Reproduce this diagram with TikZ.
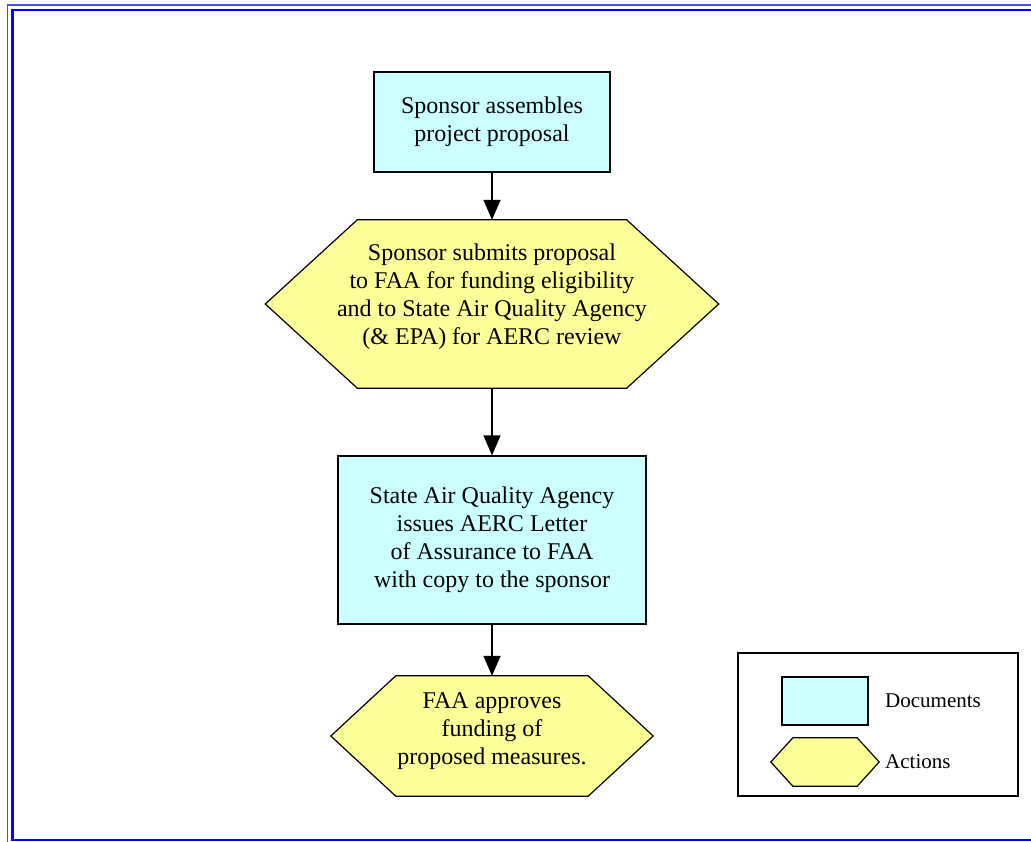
\documentclass[tikz,border=0pt]{standalone}
\usepackage{fontspec}
\setmainfont{Liberation Serif}
\usetikzlibrary{arrows.meta, positioning, backgrounds}
\definecolor{docfill}{HTML}{CCFFFF}
\definecolor{actfill}{HTML}{FFFF99}

\newcommand{\hexagon}[2]{%
	\filldraw[hexline] (#1.north west) -- (#1.north east) -- ([xshift=#2]#1.east) -- (#1.south east) -- (#1.south west) -- ([xshift=-#2]#1.west) -- cycle;}

\begin{document}
\begin{tikzpicture} [x=1pt, y=-1pt, >={Triangle[length=20pt,width=17pt]},
	every node/.style={font=\fontsize{24}{28}\selectfont},
	doc/.style={draw, line width=1.2pt, fill=docfill, align=center, inner sep=0pt},
	act/.style={inner sep=0pt},
	acttext/.style={align=center, inner sep=0pt},
	keytext/.style={anchor=west, inner sep=0pt, font=\fontsize{21}{25}\selectfont},
	hexline/.style={draw=black, line width=1.2pt, fill=actfill},
	flow/.style={->, line width=1.2pt}]
	\useasboundingbox (0,0) rectangle (1031,842);
	%%%	Frame
	\draw[blue!70, line width=1.2pt] (7.5,5) rectangle (1050,860);
	\draw[blue, line width=2.2pt] (12.5,10) rectangle (1050,840);
	%%%	Flow
	\node[doc, minimum width=236pt, minimum height=100pt] (assemble) at (492,122) {Sponsor assembles\\ project proposal};
	\node[act, minimum width=269pt, minimum height=168pt] (submit) at (492,304) {};
	\node[acttext] (submittext) at (492,297) {Sponsor submits proposal\\to FAA for funding eligibility\\and to State Air Quality Agency\\(\& EPA) for AERC review};
	\node[doc, minimum width=308pt, minimum height=168pt] (letter) at (492,540) {State Air Quality Agency\\issues AERC Letter\\of Assurance to FAA\\with copy to the sponsor};
	\node[act, minimum width=192pt, minimum height=120pt] (approve) at (492,736) {};
	\node[acttext] (approvetext) at (492,731) {FAA approves\\funding of\\proposed measures.};
	\begin{scope}[on background layer]
		\hexagon{submit}{92pt}
		\hexagon{approve}{65pt}
	\end{scope}
	\draw[flow] (assemble) -- (submit);
	\draw[flow] (submit) -- (letter);
	\draw[flow] (letter) -- (approve);
	%%%	Legend
	\node[draw, line width=1.2pt, minimum width=280pt, minimum height=143pt] (legend) at (878,724.5) {};
	\node[doc, minimum width=86pt, minimum height=48pt] (dockey) at (825,701) {};
	\node[act, minimum width=64pt, minimum height=48pt] (actkey) at (825,762) {};
	\begin{scope}[on background layer]
		\hexagon{actkey}{22pt}
	\end{scope}
	\node[keytext] (doclabel) at (885,701) {Documents};
	\node[keytext] (actlabel) at (885,762) {Actions};
\end{tikzpicture}
\end{document}
